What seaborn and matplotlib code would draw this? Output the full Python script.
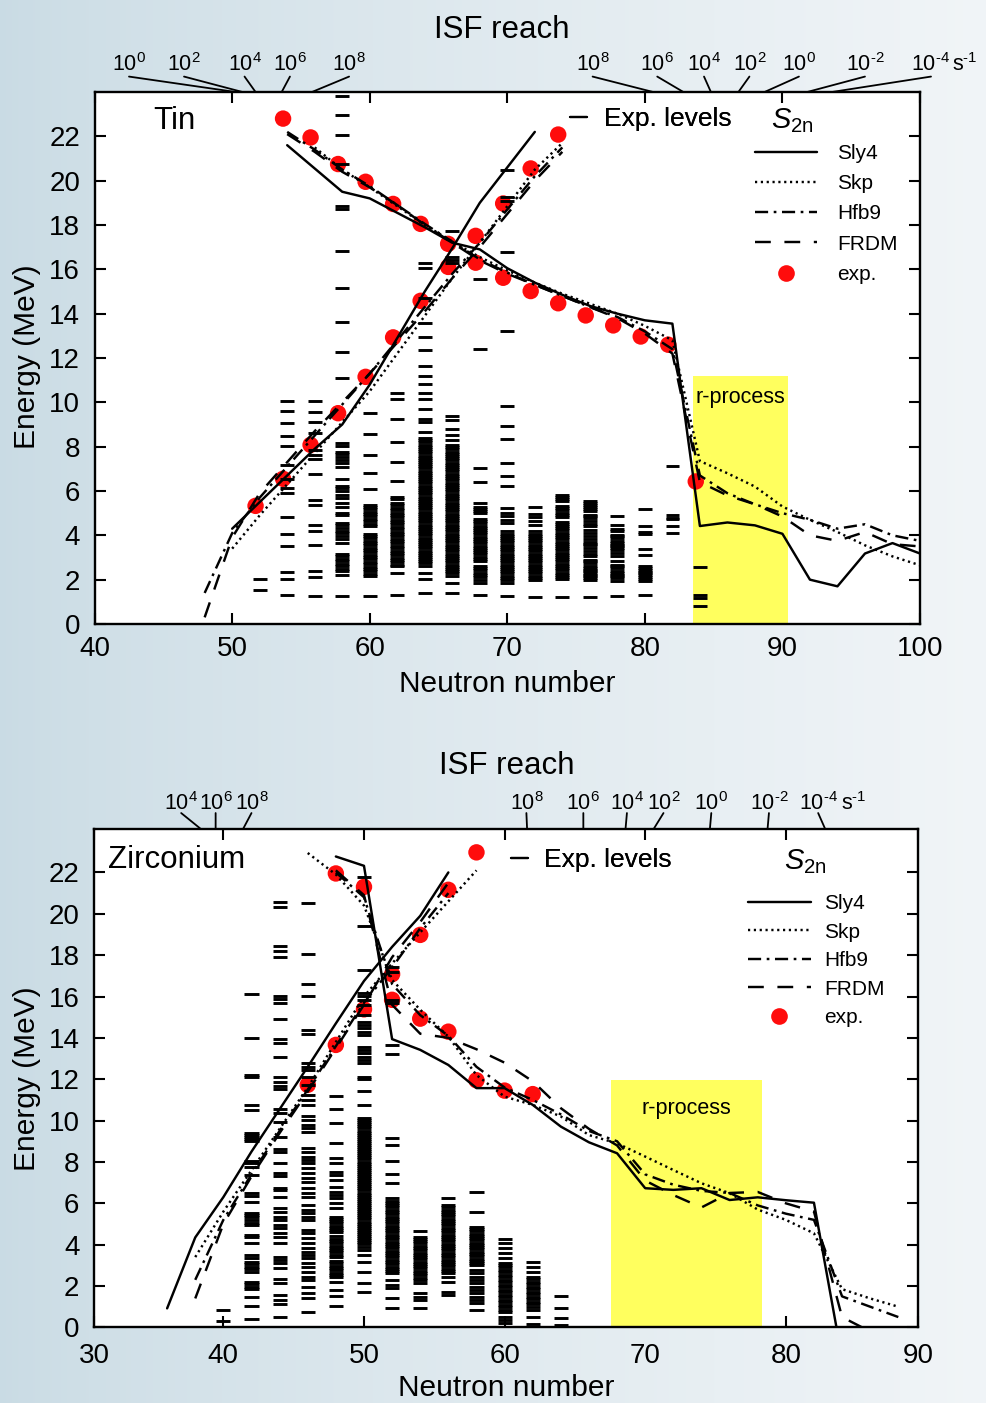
import numpy as np
import pandas as pd
import matplotlib
matplotlib.use("Agg")
import matplotlib.pyplot as plt
import seaborn as sns
from matplotlib.lines import Line2D

# ============================ DATA ============================
MODELS = ["Sly4", "Skp", "Hfb9", "FRDM"]

# ---------- Tin : two-neutron separation energies (falling branch) ----------
sn_fall_N = [54, 56, 58, 60, 62, 64, 66, 68, 70, 72, 74, 76, 78, 80, 82, 84, 86, 88, 90, 92, 94, 96, 98, 100]
sn_fall_sly4 = [21.6, 20.55, 19.5, 19.2, 18.55, 17.9, 17.2, 16.9, 16.05, 15.4, 14.85, 14.35, 14.0, 13.7, 13.55,
                4.42, 4.58, 4.45, 4.07, 2.0, 1.7, 3.18, 3.65, 3.18]
sn_fall_skp_N = [56, 58, 60, 62, 64, 66, 68, 70, 72, 74, 76, 78, 80, 82, 84, 86, 88, 90, 92, 94, 96, 98, 100]
sn_fall_skp = [21.5, 20.5, 19.7, 18.85, 18.0, 17.25, 16.55, 15.95, 15.4, 14.9, 14.45, 14.0, 13.45, 12.8,
               7.35, 6.8, 6.2, 5.3, 4.7, 4.15, 3.55, 3.05, 2.65]
sn_fall_hfb9 = [22.2, 21.4, 20.5, 19.75, 18.9, 18.05, 17.25, 16.45, 15.85, 15.3, 14.8, 14.3, 13.85, 13.2, 12.4,
                6.7, 5.9, 5.4, 5.0, 4.7, 4.3, 4.5, 4.0, 3.75]
sn_fall_frdm = [22.1, 21.3, 20.4, 19.7, 18.9, 18.0, 17.2, 16.4, 15.8, 15.3, 14.8, 14.3, 13.8, 13.1, 12.2,
                6.4, 5.8, 5.4, 4.85, 4.0, 3.75, 4.15, 3.6, 3.5]
# ---------- Tin : rising branch ----------
sn_rise_sly4_N = [50, 52, 54, 56, 58, 60, 62, 64, 66, 68, 70, 72]
sn_rise_sly4 = [4.3, 5.5, 6.7, 7.9, 9.0, 10.8, 12.9, 15.0, 16.95, 19.0, 20.6, 22.2]
sn_rise_skp_N = [50, 52, 54, 56, 58, 60, 62, 64, 66, 68, 70, 72, 74]
sn_rise_skp = [3.4, 4.9, 6.3, 7.7, 9.1, 10.5, 12.2, 13.9, 15.6, 17.2, 18.85, 20.5, 21.7]
sn_rise_hfb9_N = [48, 50, 52, 54, 56, 58, 60, 62, 64, 66, 68, 70, 72, 74]
sn_rise_hfb9 = [1.4, 4.1, 5.7, 7.1, 8.5, 9.9, 11.3, 12.8, 14.3, 15.8, 17.2, 18.7, 20.2, 21.5]
sn_rise_frdm_N = [48, 50, 52, 54, 56, 58, 60, 62, 64, 66, 68, 70, 72, 74]
sn_rise_frdm = [0.3, 3.9, 5.9, 7.3, 8.7, 10.0, 11.3, 12.7, 14.1, 15.6, 17.0, 18.5, 20.0, 21.3]
# ---------- Tin : experiment ----------
sn_exp_fall_N = [53.7, 55.7, 57.7, 59.7, 61.7, 63.7, 65.7, 67.7, 69.7, 71.7, 73.7, 75.7, 77.7, 79.7, 81.7, 83.7]
sn_exp_fall_E = [22.8, 21.95, 20.75, 19.95, 18.95, 18.05, 17.15, 16.3, 15.62, 15.02, 14.47, 13.92, 13.47, 12.97, 12.6, 6.43]
sn_exp_rise_N = [51.7, 53.7, 55.7, 57.7, 59.7, 61.7, 63.7, 65.7, 67.7, 69.7, 71.7, 73.7]
sn_exp_rise_E = [5.33, 6.55, 8.08, 9.51, 11.15, 12.93, 14.58, 16.11, 17.51, 18.97, 20.55, 22.08]
# ---------- Tin : experimental levels (MeV) ----------
sn_lv_52 = [2.05, 1.55]
sn_lv_54 = [10.06, 9.63, 9.06, 8.49, 8.04, 7.18, 6.55, 6.13, 5.9, 4.81, 4.06, 3.53, 2.35, 2.03, 1.3]
sn_lv_56 = [10.06, 9.57, 9.1, 8.61, 7.86, 7.63, 7.43, 6.76, 5.6, 5.38, 4.45, 4.21, 3.55, 2.41, 2.11, 1.28]
sn_lv_58 = [23.8, 22.98, 22.08, 20.77, 18.85, 18.72, 16.83, 15.14, 13.64, 12.28, 11.09, 8.16, 8.05, 7.78, 7.68,
            7.55, 7.41, 7.26, 7.08, 6.55, 6.23, 6.13, 5.98, 5.83, 5.68, 5.45, 5.3, 5.03, 4.93, 4.55, 4.45, 4.33,
            4.21, 4.1, 3.98, 3.83, 3.65, 3.17, 3.05, 2.95, 2.83, 2.71, 2.6, 2.5, 2.38, 2.23, 1.28]
sn_lv_60 = [9.54, 8.56, 7.63, 6.83, 6.10, 5.38, 5.28, 5.18, 5.07, 4.96, 4.86, 4.75, 4.64, 4.53, 4.40, 4.06, 3.96,
            3.86, 3.75, 3.65, 3.55, 3.44, 3.33, 3.23, 3.12, 3.02, 2.91, 2.80, 2.70, 2.59, 2.48, 2.37, 2.26, 2.15, 1.28]
sn_lv_62 = [10.41, 10.14, 9.24, 8.20, 7.29, 6.43, 5.75, 5.63, 5.45, 5.35, 5.24, 5.14, 5.03, 4.92, 4.82, 4.71, 4.60,
            4.50, 4.39, 4.28, 4.17, 4.07, 3.96, 3.85, 3.74, 3.64, 3.53, 3.42, 3.31, 3.21, 3.10, 2.99, 2.88, 2.78,
            2.67, 2.60, 2.30, 1.32]
sn_lv_64 = [16.27, 16.04, 14.70, 13.56, 12.96, 12.36, 11.64, 11.19, 10.83, 10.41, 10.15, 9.69, 9.24, 9.13, 8.65,
            8.38, 8.29, 8.19, 8.09, 7.99, 7.90, 7.80, 7.70, 7.60, 7.51, 7.41, 7.31, 7.21, 7.12, 7.02, 6.92, 6.82,
            6.73, 6.63, 6.53, 6.43, 6.34, 6.24, 6.14, 6.04, 5.95, 5.85, 5.75, 5.65, 5.56, 5.46, 5.36, 5.26, 5.17,
            5.07, 4.97, 4.87, 4.78, 4.68, 4.58, 4.48, 4.39, 4.29, 4.19, 4.09, 4.00, 3.90, 3.80, 3.70, 3.61, 3.51,
            3.41, 3.31, 3.22, 3.12, 3.02, 2.92, 2.83, 2.73, 2.63, 2.30, 2.03, 1.40]
sn_lv_66 = [17.72, 16.55, 16.42, 16.30, 9.39, 9.21, 8.79, 8.53, 8.31, 8.08, 7.98, 7.88, 7.78, 7.68, 7.58, 7.48,
            7.38, 7.28, 7.18, 7.08, 6.98, 6.88, 6.78, 6.68, 6.58, 6.48, 6.38, 6.28, 6.18, 6.08, 5.98, 5.88, 5.78,
            5.68, 5.58, 5.48, 5.38, 5.28, 5.18, 5.08, 4.98, 4.88, 4.78, 4.68, 4.58, 4.48, 4.38, 4.28, 4.18, 4.08,
            3.98, 3.88, 3.78, 3.68, 3.58, 3.48, 3.38, 3.28, 3.18, 3.08, 2.98, 2.88, 2.78, 2.68, 2.58, 2.48, 2.38,
            2.30, 2.15, 1.85, 1.40]
sn_lv_68 = [15.56, 12.39, 7.06, 6.39, 5.45, 5.30, 5.20, 5.10, 5.00, 4.74, 4.64, 4.54, 4.44, 4.34, 4.24, 4.14, 4.04,
            3.94, 3.84, 3.74, 3.64, 3.54, 3.44, 3.34, 3.24, 3.14, 3.04, 2.94, 2.84, 2.62, 2.52, 2.42, 2.32, 2.22,
            2.12, 2.00, 1.85, 1.32]
sn_lv_70 = [20.47, 19.27, 19.09, 16.79, 13.23, 9.84, 8.94, 8.34, 7.25, 6.68, 6.23, 5.23, 5.00, 4.85, 4.70, 4.55,
            4.18, 4.08, 3.98, 3.88, 3.78, 3.68, 3.58, 3.48, 3.38, 3.28, 3.18, 3.08, 2.98, 2.88, 2.78, 2.68, 2.58,
            2.48, 2.38, 2.28, 2.18, 2.08, 2.00, 1.85, 1.25]
sn_lv_72 = [5.26, 4.96, 4.81, 4.63, 4.45, 4.18, 4.08, 3.98, 3.88, 3.78, 3.68, 3.58, 3.48, 3.38, 3.28, 3.18, 3.08,
            2.98, 2.88, 2.78, 2.68, 2.58, 2.48, 2.38, 2.28, 2.18, 2.08, 2.00, 1.22]
sn_lv_74 = [5.83, 5.73, 5.63, 5.53, 5.33, 5.23, 5.13, 5.03, 4.93, 4.83, 4.62, 4.52, 4.42, 4.32, 4.22, 4.12, 4.02,
            3.92, 3.82, 3.72, 3.62, 3.52, 3.42, 3.32, 3.22, 3.12, 3.02, 2.92, 2.82, 2.72, 2.62, 2.52, 2.42, 2.32,
            2.22, 2.12, 2.02, 1.22]
sn_lv_76 = [5.53, 5.45, 5.36, 5.27, 5.18, 5.08, 4.93, 4.85, 4.78, 4.63, 4.50, 4.40, 4.25, 4.10, 3.95, 3.83, 3.70,
            3.62, 3.55, 3.43, 3.28, 3.15, 3.05, 2.90, 2.83, 2.75, 2.60, 2.52, 2.45, 2.38, 2.30, 2.22, 2.15, 2.07,
            2.00, 1.22]
sn_lv_78 = [4.85, 4.45, 4.28, 4.18, 4.03, 3.95, 3.88, 3.73, 3.65, 3.58, 3.50, 3.43, 3.32, 3.20, 3.08, 2.83, 2.68,
            2.60, 2.53, 2.38, 2.30, 2.23, 2.15, 2.08, 1.92, 1.25]
sn_lv_80 = [5.21, 4.40, 4.13, 4.07, 3.38, 3.13, 2.60, 2.52, 2.44, 2.36, 2.28, 2.20, 2.12, 2.04, 1.96, 1.30]
sn_lv_82 = [7.14, 4.90, 4.80, 4.72, 4.40, 4.10]
sn_lv_84 = [2.56, 1.32, 1.16, 0.80]

# ---------- Zirconium : falling branch ----------
zr_fall_sly4_N = [48, 50, 52, 54, 56, 58, 60, 62, 64, 66, 68, 70, 72, 74, 76, 78, 80, 82, 84]
zr_fall_sly4 = [22.77, 22.32, 13.94, 13.42, 12.69, 11.57, 11.57, 10.76, 9.71, 8.95, 8.42, 6.73, 6.65, 6.73,
                6.16, 6.29, 6.15, 6.03, -1.5]
zr_fall_skp_N = [46, 48, 50, 52, 54, 56, 58, 60, 62, 64, 66, 68, 70, 72, 74, 76, 78, 80, 82, 84, 86, 88]
zr_fall_skp = [22.94, 21.9, 20.4, 16.8, 15.36, 14.06, 12.2, 11.16, 10.76, 10.2, 9.3, 8.9, 8.26, 7.61, 6.97, 6.49,
               5.7, 5.2, 4.55, 1.85, 1.4, 1.0]
zr_fall_hfb9_N = [48, 50, 52, 54, 56, 58, 60, 62, 64, 66, 68, 70, 72, 74, 76, 78, 80, 82, 84, 86, 88]
zr_fall_hfb9 = [22.0, 20.8, 16.6, 15.1, 14.1, 12.6, 11.6, 11.0, 10.3, 9.5, 9.0, 7.4, 6.9, 6.6, 6.5, 5.9, 5.5, 5.2,
                1.5, 1.0, 0.5]
zr_fall_frdm_N = [48, 50, 52, 54, 56, 58, 60, 62, 64, 66, 68, 70, 72, 74, 76, 78, 80, 82, 84, 86]
zr_fall_frdm = [22.1, 20.9, 15.6, 14.2, 14.0, 13.45, 12.8, 11.9, 10.6, 9.6, 8.8, 7.1, 6.4, 5.8, 6.5, 6.55, 6.0, 5.6,
                0.5, -0.2]
# ---------- Zirconium : rising branch ----------
zr_rise_sly4_N = [36, 38, 40, 42, 44, 46, 48, 50, 52, 54, 56]
zr_rise_sly4 = [0.92, 4.35, 6.3, 8.5, 10.55, 12.6, 14.7, 16.75, 18.4, 19.9, 22.0]
zr_rise_skp_N = [38, 40, 42, 44, 46, 48, 50, 52, 54, 56, 58]
zr_rise_skp = [3.4, 5.6, 7.6, 9.6, 11.6, 13.8, 16.0, 17.6, 19.1, 20.6, 22.1]
zr_rise_hfb9_N = [38, 40, 42, 44, 46, 48, 50, 52, 54, 56]
zr_rise_hfb9 = [2.3, 5.2, 7.4, 9.5, 11.5, 13.6, 15.7, 17.4, 19.3, 21.0]
zr_rise_frdm_N = [38, 40, 42, 44, 46, 48, 50, 52, 54, 56]
zr_rise_frdm = [1.4, 5.0, 7.3, 9.4, 11.4, 13.5, 15.6, 17.9, 19.6, 21.5]
# ---------- Zirconium : experiment ----------
zr_exp_fall_N = [48, 50, 52, 54, 56, 58, 60, 62]
zr_exp_fall_E = [21.95, 21.3, 15.84, 14.93, 14.3, 11.95, 11.45, 11.28]
zr_exp_rise_N = [46, 48, 50, 52, 54, 56, 58]
zr_exp_rise_E = [11.73, 13.66, 15.38, 17.08, 18.98, 21.16, 22.97]
# ---------- Zirconium : experimental levels (MeV) ----------
zr_lv_40 = [0.85, 0.30]
zr_lv_42 = [16.11, 14.01, 12.2, 12.1, 10.76, 10.49, 9.42, 9.31, 9.2, 9.1, 8.99, 8.05, 7.94, 7.74, 7.37, 6.49, 6.37,
            6.08, 5.55, 5.44, 5.32, 5.2, 5.07, 4.95, 4.47, 4.36, 4.07, 3.5, 3.34, 3.18, 3.05, 2.94, 2.81, 2.7, 2.21,
            2.1, 1.97, 1.84, 1.45, 1.04, 0.39]
zr_lv_44 = [20.59, 20.32, 18.45, 18.2, 17.93, 16.04, 15.87, 15.67, 14.91, 13.93, 13.74, 13.09, 12.12, 11.86, 11.66,
            11.52, 10.55, 10.36, 9.95, 9.2, 8.62, 8.5, 7.94, 7.45, 7.32, 6.73, 6.65, 6.29, 5.79, 5.6, 5.36, 5.2,
            4.95, 4.79, 4.55, 4.39, 4.1, 3.42, 3.26, 3.1, 2.86, 2.32, 2.13, 1.57, 1.32, 1.13, 0.52]
zr_lv_46 = [20.54, 18.06, 16.59, 16.04, 14.38, 14.19, 12.77, 12.61, 12.45, 12.12, 11.73, 11.24, 11.0, 10.76, 10.2,
            10.03, 9.79, 9.63, 9.47, 8.66, 8.5, 8.26, 8.1, 7.94, 7.7, 7.45, 7.21, 7.05, 6.73, 6.49, 6.32, 5.92,
            5.68, 5.52, 5.36, 5.2, 4.71, 4.55, 4.31, 4.07, 3.82, 3.66, 3.5, 3.34, 3.1, 2.94, 2.7, 2.45, 2.29, 1.97,
            1.65, 1.41, 0.76]
zr_lv_48 = [11.20, 10.55, 9.90, 8.91, 8.18, 7.94, 7.53, 7.37, 7.13, 6.81, 6.57, 6.41, 6.24, 6.00, 5.76, 5.36, 5.25,
            5.14, 5.03, 4.92, 4.81, 4.70, 4.59, 4.40, 4.29, 4.18, 4.07, 3.96, 3.85, 3.74, 3.63, 3.52, 3.41, 3.20,
            3.09, 2.98, 2.87, 2.76, 2.65, 2.54, 2.45, 2.21, 1.81, 1.52, 1.04]
zr_lv_50 = [21.77, 19.41, 17.29, 16.19, 16.03, 15.83, 15.59, 15.11, 14.79, 14.62, 14.46, 14.30, 14.14, 13.58, 13.42,
            13.25, 13.09, 12.93, 12.77, 12.12, 12.02, 11.41, 10.76, 10.12, 10.02, 9.92, 9.82, 9.72, 9.62, 9.52,
            9.42, 9.32, 9.22, 9.12, 9.02, 8.92, 8.82, 8.72, 8.62, 8.52, 8.42, 8.32, 8.22, 8.12, 8.02, 7.92, 7.82,
            7.72, 7.62, 7.52, 7.42, 7.32, 7.22, 7.12, 7.02, 6.92, 6.82, 6.72, 6.62, 6.52, 6.42, 6.32, 6.22, 6.12,
            6.02, 5.92, 5.82, 5.72, 5.62, 5.52, 5.42, 5.32, 5.22, 5.12, 5.02, 4.92, 4.82, 4.72, 4.62, 4.52, 4.42,
            4.32, 4.22, 4.12, 4.02, 3.91, 3.74, 3.50, 3.18, 2.70, 2.16, 1.73]
zr_lv_52 = [17.45, 17.20, 15.84, 15.67, 13.66, 13.22, 9.15, 8.82, 8.05, 7.42, 7.00, 6.24, 6.13, 6.02, 5.91, 5.80,
            5.69, 5.58, 5.47, 5.36, 5.25, 5.14, 5.03, 4.92, 4.81, 4.70, 4.59, 4.48, 4.37, 4.26, 4.15, 4.04, 3.93,
            3.82, 3.71, 3.60, 3.49, 3.38, 3.27, 3.16, 3.05, 2.94, 2.83, 2.72, 2.62, 2.29, 2.05, 1.89, 1.41, 0.92]
zr_lv_54 = [4.66, 4.39, 4.28, 4.17, 4.06, 3.95, 3.84, 3.73, 3.62, 3.51, 3.40, 3.29, 3.18, 3.07, 2.96, 2.85, 2.74,
            2.63, 2.52, 2.41, 2.30, 2.13, 1.65, 1.49, 1.32, 0.92]
zr_lv_56 = [6.24, 5.92, 5.81, 5.70, 5.59, 5.48, 5.37, 5.26, 5.15, 5.04, 4.93, 4.82, 4.71, 4.60, 4.49, 4.38, 4.27,
            4.16, 4.05, 3.94, 3.83, 3.72, 3.61, 3.50, 3.39, 3.28, 3.17, 3.06, 2.95, 2.84, 2.73, 2.62, 2.45, 2.21,
            1.73, 1.57]
zr_lv_58 = [6.53, 5.57, 4.87, 4.76, 4.65, 4.54, 4.43, 4.32, 4.21, 4.10, 3.99, 3.88, 3.77, 3.66, 3.55, 3.44, 3.33,
            3.22, 3.11, 3.00, 2.78, 2.62, 2.45, 2.29, 2.13, 1.97, 1.81, 1.65, 1.49, 1.32, 1.16, 0.84]
zr_lv_60 = [4.26, 4.07, 3.82, 3.58, 3.34, 3.13, 3.02, 2.90, 2.78, 2.66, 2.54, 2.42, 2.30, 2.18, 2.06, 1.94, 1.82,
            1.70, 1.58, 1.46, 1.34, 1.22, 1.10, 0.98, 0.86, 0.76, 0.52, 0.36, 0.20]
zr_lv_62 = [3.18, 2.94, 2.70, 2.45, 2.33, 2.21, 2.09, 1.97, 1.85, 1.73, 1.61, 1.49, 1.37, 1.25, 1.13, 1.01, 0.84,
            0.49, 0.15]
zr_lv_64 = [1.52, 0.92, 0.44, 0.12]

# ---------- r-process windows: (N from, N to, E top) ----------
sn_rproc = (83.5, 90.4, 11.2)
zr_rproc = (67.6, 78.3, 11.97)

# ---------- ISF reach scale (rates in s^-1) ----------
sn_isf_left_lab = ["$10^{0}$", "$10^{2}$", "$10^{4}$", "$10^{6}$", "$10^{8}$"]
sn_isf_left_N = [50.25, 50.75, 51.7, 53.6, 55.8]
sn_isf_right_lab = ["$10^{8}$", "$10^{6}$", "$10^{4}$", "$10^{2}$", "$10^{0}$", "$10^{\\text{-}2}$", "$10^{\\text{-}4}$"]
sn_isf_right_N = [80.6, 82.8, 84.8, 86.8, 88.7, 91.8, 93.6]
zr_isf_left_lab = ["$10^{4}$", "$10^{6}$", "$10^{8}$"]
zr_isf_left_N = [38.4, 39.45, 41.4]
zr_isf_right_lab = ["$10^{8}$", "$10^{6}$", "$10^{4}$", "$10^{2}$", "$10^{0}$", "$10^{\\text{-}2}$", "$10^{\\text{-}4}$"]
zr_isf_right_N = [61.6, 65.6, 68.6, 70.6, 74.6, 78.7, 82.8]

# tick labels
sn_xticks = [40, 50, 60, 70, 80, 90, 100]
zr_xtick_labels = ["30", "40", "50", "60", "70", "80", "90"]
yticks = [0, 2, 4, 6, 8, 10, 12, 14, 16, 18, 20, 22]

# ============================ STYLE ============================
sns.set_theme(style="ticks")
plt.rcParams["font.family"] = ["Liberation Sans", "DejaVu Sans"]
plt.rcParams.update({
    "mathtext.fontset": "custom",
    "mathtext.rm": "Liberation Sans",
    "mathtext.it": "Liberation Sans:italic",
    "mathtext.bf": "Liberation Sans:bold",
    "axes.edgecolor": "black", "xtick.color": "black", "ytick.color": "black",
    "text.color": "black", "axes.labelcolor": "black",
})
RED = "#ff0c0c"
YELLOW = "#ffff5e"
LW = 1.75
LS = {"Sly4": "-", "Skp": (0, (0.9, 1.5)), "Hfb9": (0, (5.4, 2.3, 1.1, 2.3)), "FRDM": (0, (6.5, 5.6))}

W, H = 987, 1403
fig = plt.figure(figsize=(W / 100, H / 100), dpi=100)

# background gradient
bg = fig.add_axes([0, 0, 1, 1], zorder=-10)
t = np.linspace(0, 1, 400) ** 0.8
c0 = np.array([0.79, 0.86, 0.895])
c1 = np.array([0.945, 0.96, 0.97])
row = c0[None, :] * (1 - t[:, None]) + c1[None, :] * t[:, None]
bg.imshow(np.repeat(row[None, :, :], 4, axis=0), aspect="auto", extent=[0, 1, 0, 1])
bg.set_axis_off()

ax1 = fig.add_axes([94.6 / W, 1 - 624 / H, 825.4 / W, 532 / H])
ax2 = fig.add_axes([94 / W, 1 - 1327.4 / H, 824 / W, 498.4 / H])


def draw_curves(ax, curves):
    for model, N, E in curves:
        df = pd.DataFrame({"N": N, "E": E})
        sns.lineplot(data=df, x="N", y="E", ax=ax, color="black", lw=LW, linestyle=LS[model],
                     estimator=None, errorbar=None, sort=False, legend=False, zorder=4)


def draw_levels(ax, levels):
    for n, vals in levels.items():
        ax.hlines(vals, n - 0.5, n + 0.5, colors="black", lw=2.1, zorder=3)


def draw_exp(ax, pairs):
    for N, E in pairs:
        sns.scatterplot(x=N, y=E, ax=ax, color=RED, s=140, edgecolor="none", linewidth=0, zorder=2, legend=False)


def draw_isf(ax, labels, spineN, labN, ylab, yline, fs=15.5):
    tr = ax.get_xaxis_transform()
    for lab, ns, nl in zip(labels, spineN, labN):
        ax.annotate("", xy=(ns, 1.0), xycoords=tr, xytext=(nl, yline), textcoords=tr,
                    arrowprops=dict(arrowstyle="-", lw=1.3, color="black", shrinkA=0, shrinkB=0),
                    annotation_clip=False)
        ax.text(nl, ylab, lab, transform=tr, ha="center", va="center", fontsize=fs, clip_on=False)


def style_axes(ax, xpad):
    for s in ax.spines.values():
        s.set_linewidth(1.7)
        s.set_color("black")
        s.set_visible(True)
    ax.tick_params(direction="in", length=8, width=1.5, top=True, right=True,
                   labelsize=20, colors="black")
    ax.tick_params(axis="x", pad=xpad)
    ax.tick_params(axis="y", pad=10.5)
    ax.set_yticks(yticks)
    ax.set_facecolor("white")


def legends(ax, xl, yl, lsp, htp, xe, ye):
    handles = [Line2D([], [], color="black", lw=LW, linestyle=LS[m]) for m in MODELS]
    handles.append(Line2D([], [], color=RED, marker="o", markersize=12, lw=0, markeredgewidth=0))
    leg = ax.legend(handles, MODELS + ["exp."], loc="upper left", bbox_to_anchor=(xl, yl),
                    frameon=False, fontsize=15, handlelength=3.0, handletextpad=htp,
                    labelspacing=lsp, borderpad=0, borderaxespad=0)
    ax.add_artist(leg)
    leg2 = ax.legend([Line2D([], [], color="black", lw=1.6)], ["Exp. levels"], loc="upper left",
                     bbox_to_anchor=(xe, ye), frameon=False, fontsize=19, handlelength=0.65,
                     handletextpad=0.62, borderpad=0, borderaxespad=0)
    ax.add_artist(leg2)


# ============================ TIN ============================
ax = ax1
ax.fill_between([sn_rproc[0], sn_rproc[1]], 0, sn_rproc[2], color=YELLOW, lw=0, zorder=1)
ax.text((sn_rproc[0] + sn_rproc[1]) / 2, sn_rproc[2] - 1.0, "r-process", ha="center", va="center",
        fontsize=15.5, zorder=5)
draw_exp(ax, [(sn_exp_fall_N, sn_exp_fall_E), (sn_exp_rise_N, sn_exp_rise_E)])
draw_levels(ax, {52: sn_lv_52, 54: sn_lv_54, 56: sn_lv_56, 58: sn_lv_58, 60: sn_lv_60, 62: sn_lv_62,
                 64: sn_lv_64, 66: sn_lv_66, 68: sn_lv_68, 70: sn_lv_70, 72: sn_lv_72, 74: sn_lv_74,
                 76: sn_lv_76, 78: sn_lv_78, 80: sn_lv_80, 82: sn_lv_82, 84: sn_lv_84})
draw_curves(ax, [("Sly4", sn_fall_N, sn_fall_sly4), ("Skp", sn_fall_skp_N, sn_fall_skp),
                 ("Hfb9", sn_fall_N, sn_fall_hfb9), ("FRDM", sn_fall_N, sn_fall_frdm),
                 ("Sly4", sn_rise_sly4_N, sn_rise_sly4), ("Skp", sn_rise_skp_N, sn_rise_skp),
                 ("Hfb9", sn_rise_hfb9_N, sn_rise_hfb9), ("FRDM", sn_rise_frdm_N, sn_rise_frdm)])
ax.set_xlim(40, 100)
ax.set_ylim(0, 24.0)
style_axes(ax, 8.8)
ax.set_xticks(sn_xticks)
ax.set_xlabel("Neutron number", fontsize=21.5)
ax.xaxis.set_label_coords(0.5, -0.113)
ax.xaxis.label.set_va("center")
ax.set_ylabel("Energy (MeV)", fontsize=21.5)
ax.yaxis.set_label_coords(-0.082, 0.503)
ax.yaxis.label.set_va("center")
ax.text(0.0708, 0.945, "Tin", transform=ax.transAxes, fontsize=22.5, va="center", ha="left")
ax.text(0.845, 0.946, r"$\mathit{S}_{\mathrm{2n}}$", transform=ax.transAxes, fontsize=21,
        va="center", ha="center")
legends(ax, 0.800, 0.9026, 0.54, 0.96, 0.576, 0.972)
draw_isf(ax, sn_isf_left_lab, sn_isf_left_N, [42.5, 46.5, 50.9, 54.2, 58.5], 1.052, 1.029)
draw_isf(ax, sn_isf_right_lab, sn_isf_right_N, [76.2, 80.9, 84.3, 87.6, 91.2, 96.0, 100.8], 1.052, 1.029)
ax.text(102.3, 1.052, "s$^{\\text{-}1}$", transform=ax.get_xaxis_transform(), ha="left", va="center",
        fontsize=15.5, clip_on=False)
ax.text(0.4936, 1.1164, "ISF reach", transform=ax.transAxes, ha="center", va="center", fontsize=22.5)

# ============================ ZIRCONIUM ============================
ax = ax2
ax.fill_between([zr_rproc[0], zr_rproc[1]], 0, zr_rproc[2], color=YELLOW, lw=0, zorder=1)
ax.text((zr_rproc[0] + zr_rproc[1]) / 2, zr_rproc[2] - 1.4, "r-process", ha="center", va="center",
        fontsize=15.5, zorder=5)
draw_exp(ax, [(zr_exp_fall_N, zr_exp_fall_E), (zr_exp_rise_N, zr_exp_rise_E)])
draw_levels(ax, {40: zr_lv_40, 42: zr_lv_42, 44: zr_lv_44, 46: zr_lv_46, 48: zr_lv_48, 50: zr_lv_50,
                 52: zr_lv_52, 54: zr_lv_54, 56: zr_lv_56, 58: zr_lv_58, 60: zr_lv_60, 62: zr_lv_62,
                 64: zr_lv_64})
draw_curves(ax, [("Sly4", zr_fall_sly4_N, zr_fall_sly4), ("Skp", zr_fall_skp_N, zr_fall_skp),
                 ("Hfb9", zr_fall_hfb9_N, zr_fall_hfb9), ("FRDM", zr_fall_frdm_N, zr_fall_frdm),
                 ("Sly4", zr_rise_sly4_N, zr_rise_sly4), ("Skp", zr_rise_skp_N, zr_rise_skp),
                 ("Hfb9", zr_rise_hfb9_N, zr_rise_hfb9), ("FRDM", zr_rise_frdm_N, zr_rise_frdm)])
ax.set_xlim(30.8, 89.4)
ax.set_ylim(0, 24.1)
style_axes(ax, 11)
ax.set_xticks([30.8, 40, 50, 60, 70, 80, 89.4])
ax.set_xticklabels(zr_xtick_labels)
ax.set_xlabel("Neutron number", fontsize=21.5)
ax.xaxis.set_label_coords(0.5, -0.1216)
ax.xaxis.label.set_va("center")
ax.set_ylabel("Energy (MeV)", fontsize=21.5)
ax.yaxis.set_label_coords(-0.0813, 0.4994)
ax.yaxis.label.set_va("center")
ax.text(0.017, 0.938, "Zirconium", transform=ax.transAxes, fontsize=22.5, va="center", ha="left")
ax.text(0.863, 0.934, r"$\mathit{S}_{\mathrm{2n}}$", transform=ax.transAxes, fontsize=21,
        va="center", ha="center")
legends(ax, 0.7937, 0.8696, 0.46, 0.67, 0.506, 0.962)
draw_isf(ax, zr_isf_left_lab, zr_isf_left_N, [37.0, 39.45, 42.0], 1.052, 1.032)
draw_isf(ax, zr_isf_right_lab, zr_isf_right_N, [61.55, 65.6, 68.7, 71.3, 74.7, 78.8, 82.3], 1.052, 1.032)
ax.text(83.9, 1.052, "s$^{\\text{-}1}$", transform=ax.get_xaxis_transform(), ha="left", va="center",
        fontsize=15.5, clip_on=False)
ax.text(0.501, 1.126, "ISF reach", transform=ax.transAxes, ha="center", va="center", fontsize=22.5)

fig.savefig("out.png", dpi=100)
